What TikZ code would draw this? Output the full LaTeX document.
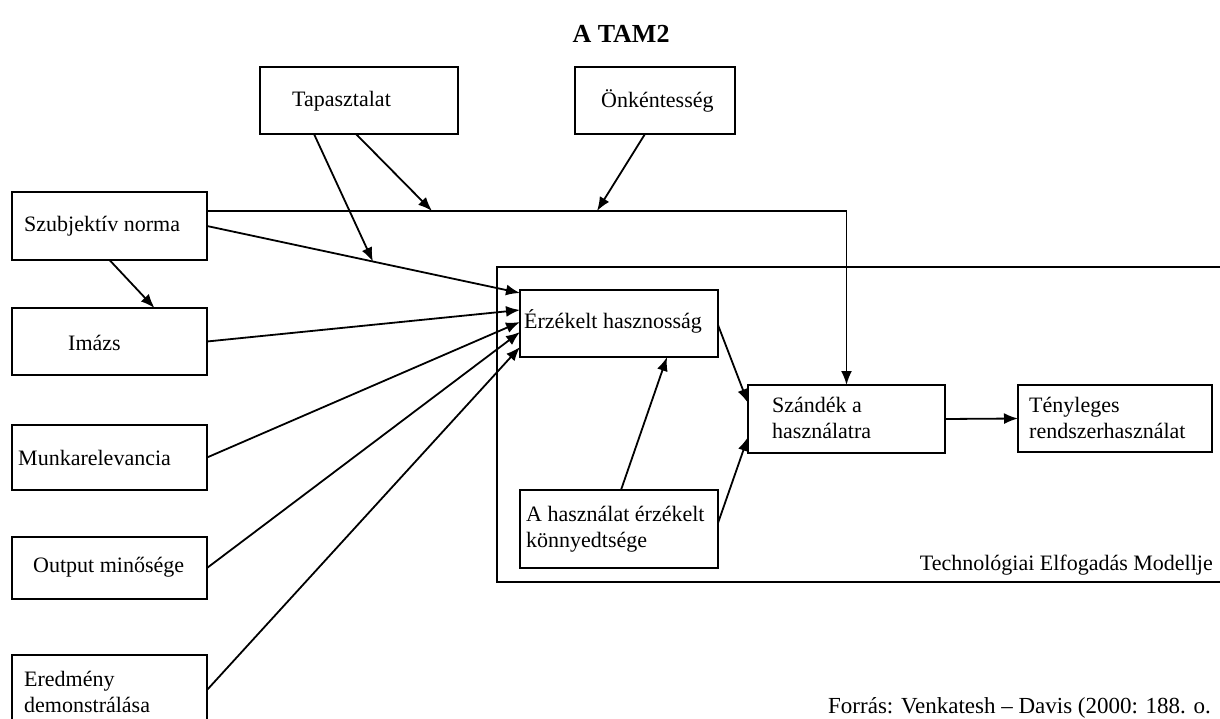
\documentclass[tikz,border=0pt]{standalone}
\usepackage{fontspec}
\setmainfont{Liberation Serif}
\usetikzlibrary{arrows.meta,calc}
\begin{document}
\begin{tikzpicture}[x=1pt,y=-1pt,
  bx/.style={draw,line width=1.8pt,inner sep=0pt,outer sep=0pt},
  tx/.style={inner sep=0pt,font=\fontsize{22}{26}\selectfont,align=left},
  ln/.style={line width=1.8pt},
  ar/.style={line width=1.8pt,-{Latex[length=14pt,width=11pt]}}]
\useasboundingbox (0,0) rectangle (1220,719);
\fill[white] (0,0) rectangle (1220,719);
% title
\node[inner sep=0pt,font=\bfseries\fontsize{26}{30}\selectfont] (title) at (621,34) {A TAM2};
% boxes
\node[bx,minimum width=198pt,minimum height=67pt] (tap) at (359,100.5) {};
\node[bx,minimum width=160pt,minimum height=67pt] (onk) at (655,100.5) {};
\node[bx,minimum width=195pt,minimum height=68pt] (szub) at (109.5,226) {};
\node[bx,minimum width=195pt,minimum height=67pt] (imazs) at (109.5,341.5) {};
\node[bx,minimum width=195pt,minimum height=65pt] (munka) at (109.5,457.5) {};
\node[bx,minimum width=195pt,minimum height=62pt] (output) at (109.5,568) {};
\node[bx,minimum width=195pt,minimum height=80pt] (ered) at (109.5,695) {};
\node[bx,minimum width=735pt,minimum height=315pt] (tam) at (864.5,424.5) {};
\node[bx,minimum width=198pt,minimum height=67pt] (erz) at (619,323.5) {};
\node[bx,minimum width=198pt,minimum height=78pt] (konny) at (619,529) {};
\node[bx,minimum width=197pt,minimum height=68pt] (szandek) at (846.5,419) {};
\node[bx,minimum width=194pt,minimum height=67pt] (teny) at (1115,418.5) {};
% texts
\node[tx,anchor=west] (ttap) at (292,101) {Tapasztalat};
\node[tx,anchor=west] (tonk) at (601,101) {Önkéntesség};
\node[tx,anchor=west] (tszub) at (24,226) {Szubjektív norma};
\node[tx,anchor=west] (timazs) at (68,343) {Imázs};
\node[tx,anchor=west] (tmunka) at (18,458) {Munkarelevancia};
\node[tx,anchor=west] (toutput) at (33,567) {Output minősége};
\node[tx,anchor=west] (tered) at (24,692) {Eredmény\\demonstrálása};
\node[tx,anchor=west] (terz) at (524,321) {Érzékelt hasznosság};
\node[tx,anchor=west] (tkonny) at (526,529) {A használat érzékelt\\könnyedtsége};
\node[tx,anchor=west] (tszandek) at (772,418) {Szándék a\\használatra};
\node[tx,anchor=west] (tteny) at (1029,418) {Tényleges\\rendszerhasználat};
\node[tx,anchor=east] (ttam) at (1213,565) {Technológiai Elfogadás Modellje};
\node[inner sep=0pt,anchor=west,font=\fontsize{23}{27}\selectfont] (forras) at (828,708) {Forrás: Venkatesh – Davis (2000: 188. o.};
% connectors
\draw[ar] (szub.east) -- coordinate[pos=0.53] (m3) ([yshift=30.5pt]erz.west);
\draw[ar] ([yshift=15pt]szub.east) -| (szandek.north);
\coordinate (m1) at (432,211);
\coordinate (m2) at (597,211);
\draw[ar] ([xshift=-3pt]tap.south) -- (m1);
\draw[ar] ([xshift=-45pt]tap.south) -- (m3);
\draw[ar] ([xshift=-10pt]onk.south) -- (m2);
\draw[ar] (szub.south) -- ([xshift=45pt]imazs.north);
\draw[ar] (imazs.east) -- ([yshift=13.5pt]erz.west);
\draw[ar] (munka.east) -- ([yshift=1.5pt]erz.west);
\draw[ar] (output.east) -- ([yshift=-8.5pt]erz.west);
\draw[ar] ([yshift=5pt]ered.east) -- ([yshift=-23.5pt]erz.west);
\draw[ar] ([yshift=-1.5pt]erz.east) -- ([yshift=16pt]szandek.west);
\draw[ar] ([yshift=6pt]konny.east) -- ([yshift=-18pt]szandek.west);
\draw[ar] ([xshift=2pt]konny.north) -- ([xshift=48pt]erz.south);
\draw[ar] (szandek.east) -- (teny.west);
\end{tikzpicture}
\end{document}
